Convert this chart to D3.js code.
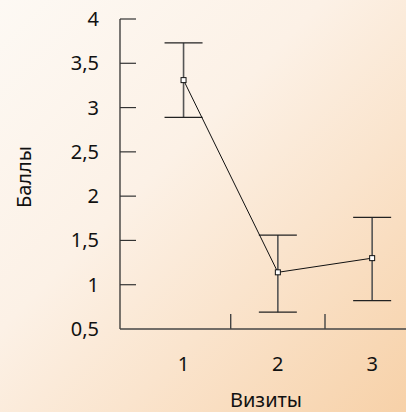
<!DOCTYPE html>
<html>
<head>
<meta charset="utf-8">
<script src="https://cdn.jsdelivr.net/npm/d3@7"></script>
<style>
  html, body { margin: 0; padding: 0; }
  body { width: 406px; height: 412px; overflow: hidden; }
  text { font-family: "Noto Sans", "Open Sans", sans-serif; fill: #111; }
</style>
</head>
<body>
<div id="chart"></div>
<script>
// visits and mean scores with error bar limits
const visits = [1, 2, 3];
const means = [3.31, 1.14, 1.30];
const upper = [3.73, 1.56, 1.76];
const lower = [2.89, 0.69, 0.82];
const yTicks = [0.5, 1, 1.5, 2, 2.5, 3, 3.5, 4];
const yTickLabels = ["0,5", "1", "1,5", "2", "2,5", "3", "3,5", "4"];

const width = 406, height = 412;

const svg = d3.select("#chart").append("svg")
    .attr("width", width)
    .attr("height", height);

// background gradient
const defs = svg.append("defs");
const grad = defs.append("linearGradient")
    .attr("id", "bg")
    .attr("x1", "0").attr("y1", "0")
    .attr("x2", "1").attr("y2", "1");
grad.append("stop").attr("offset", "0%").attr("stop-color", "#fdf9f4");
grad.append("stop").attr("offset", "40%").attr("stop-color", "#fcf1e6");
grad.append("stop").attr("offset", "65%").attr("stop-color", "#fae4cd");
grad.append("stop").attr("offset", "100%").attr("stop-color", "#f7d1a8");
svg.append("rect")
    .attr("width", width).attr("height", height)
    .attr("fill", "url(#bg)");

const yMap = d3.scaleLinear()
    .domain([0.5, 4])
    .range([329, 19]);
const xMap = d3.scaleLinear()
    .domain([0.5, 3.5])
    .range([136.4, 419.3]);
const axisX0 = 120;

// y axis
const yAxis = svg.append("g").attr("id", "yaxis");
yAxis.append("line")
    .attr("x1", axisX0).attr("x2", axisX0)
    .attr("y1", yMap(4)).attr("y2", yMap(0.5))
    .attr("stroke", "#222").attr("stroke-width", 1.2);
yAxis.selectAll("line.tick").data(yTicks.filter(d => d > 0.5))
    .enter().append("line")
    .attr("class", "tick")
    .attr("x1", axisX0).attr("x2", axisX0 + 16)
    .attr("y1", d => yMap(d)).attr("y2", d => yMap(d))
    .attr("stroke", "#333").attr("stroke-width", 1.2);
yAxis.selectAll("text").data(yTicks)
    .enter().append("text")
    .attr("x", 99)
    .attr("y", d => yMap(d) + 7)
    .attr("text-anchor", "end")
    .style("font-size", "20px")
    .text((d, i) => yTickLabels[i]);

// x axis
const xAxis = svg.append("g").attr("id", "xaxis");
xAxis.append("line")
    .attr("x1", axisX0).attr("x2", width)
    .attr("y1", yMap(0.5)).attr("y2", yMap(0.5))
    .attr("stroke", "#444").attr("stroke-width", 1.4);
xAxis.selectAll("line.tick").data([1.5, 2.5])
    .enter().append("line")
    .attr("class", "tick")
    .attr("x1", d => xMap(d)).attr("x2", d => xMap(d))
    .attr("y1", yMap(0.5) - 15).attr("y2", yMap(0.5))
    .attr("stroke", "#444").attr("stroke-width", 1.4);
xAxis.selectAll("text").data(visits)
    .enter().append("text")
    .attr("x", d => xMap(d))
    .attr("y", 371)
    .attr("text-anchor", "middle")
    .style("font-size", "20px")
    .text(d => d);

// axis titles
svg.append("text")
    .attr("transform", "translate(31,177) rotate(-90)")
    .attr("text-anchor", "middle")
    .style("font-size", "20px")
    .text("Баллы");
svg.append("text")
    .attr("x", 266)
    .attr("y", 407)
    .attr("text-anchor", "middle")
    .style("font-size", "20px")
    .text("Визиты");

// error bars
const bars = svg.append("g").attr("id", "errorbars");
bars.selectAll("line.stem").data(visits)
    .enter().append("line")
    .attr("class", "stem")
    .attr("x1", d => xMap(d)).attr("x2", d => xMap(d))
    .attr("y1", (d, i) => yMap(upper[i])).attr("y2", (d, i) => yMap(lower[i]))
    .attr("stroke", "#555").attr("stroke-width", 1.6);
bars.selectAll("line.capTop").data(visits)
    .enter().append("line")
    .attr("class", "capTop")
    .attr("x1", d => xMap(d) - 19).attr("x2", d => xMap(d) + 19)
    .attr("y1", (d, i) => yMap(upper[i])).attr("y2", (d, i) => yMap(upper[i]))
    .attr("stroke", "#222").attr("stroke-width", 1.2);
bars.selectAll("line.capBottom").data(visits)
    .enter().append("line")
    .attr("class", "capBottom")
    .attr("x1", d => xMap(d) - 19).attr("x2", d => xMap(d) + 19)
    .attr("y1", (d, i) => yMap(lower[i])).attr("y2", (d, i) => yMap(lower[i]))
    .attr("stroke", "#222").attr("stroke-width", 1.2);

// mean line
const line = d3.line()
    .x(d => xMap(d))
    .y((d, i) => yMap(means[i]));
svg.append("path")
    .datum(visits)
    .attr("d", line)
    .attr("fill", "none")
    .attr("stroke", "#111")
    .attr("stroke-width", 1);

svg.selectAll("rect.point").data(visits)
    .enter().append("rect")
    .attr("class", "point")
    .attr("x", d => xMap(d) - 2.5)
    .attr("y", (d, i) => yMap(means[i]) - 2.5)
    .attr("width", 5).attr("height", 5)
    .attr("fill", "#fff")
    .attr("stroke", "#111")
    .attr("stroke-width", 1);
</script>
</body>
</html>
